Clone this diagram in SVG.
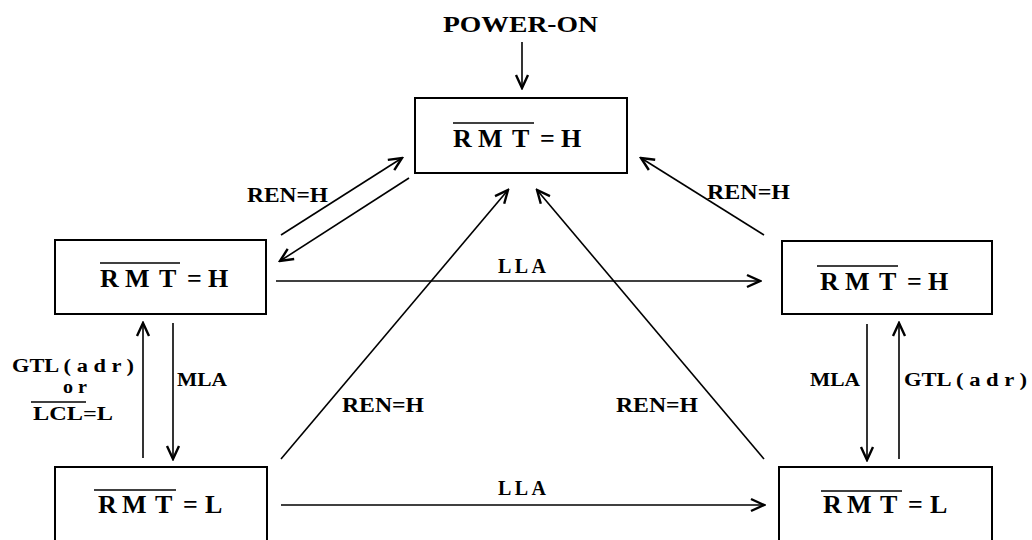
<svg xmlns="http://www.w3.org/2000/svg" width="1032" height="540" viewBox="0 0 1032 540">
  <style>
    .box { fill: #ffffff; stroke: #000000; stroke-width: 2; }
    .edge { fill: none; stroke: #000000; stroke-width: 1.6; marker-end: url(#arrow); }
    .bar { stroke: #000000; stroke-width: 1.6; }
    .state { font-family: "Liberation Serif", "Times New Roman", serif; font-weight: bold; font-size: 26px; fill: #000000; }
    .lbl { font-family: "Liberation Serif", "Times New Roman", serif; font-weight: bold; fill: #000000; }
    .big { font-size: 20px; }
    .small { font-size: 18px; }
  </style>
  <defs>
    <marker id="arrow" markerUnits="userSpaceOnUse" markerWidth="18" markerHeight="16" viewBox="-16 -8 18 16" refX="0" refY="0" orient="auto">
      <path d="M-13,-6 L0,0 L-13,6" fill="none" stroke="#000000" stroke-width="2.4" stroke-linejoin="miter"/>
    </marker>
  </defs>

  <rect width="1032" height="540" fill="#ffffff"/>

  <!-- entry label -->
  <text class="lbl" x="443" y="32" font-size="23" textLength="155" lengthAdjust="spacingAndGlyphs">POWER-ON</text>

  <!-- transitions -->
  <g id="connectors">
    <line class="edge" x1="522" y1="42" x2="522" y2="88"/>
    <line class="edge" x1="281" y1="235" x2="402" y2="158"/>
    <line class="edge" x1="409" y1="178" x2="280" y2="261"/>
    <line class="edge" x1="764" y1="235" x2="641" y2="158"/>
    <line class="edge" x1="276" y1="281" x2="760" y2="281"/>
    <line class="edge" x1="143" y1="458" x2="143" y2="323"/>
    <line class="edge" x1="173" y1="323" x2="173" y2="459"/>
    <line class="edge" x1="867" y1="324" x2="867" y2="460"/>
    <line class="edge" x1="899" y1="459" x2="899" y2="323"/>
    <line class="edge" x1="281" y1="459" x2="508" y2="190"/>
    <line class="edge" x1="764" y1="459" x2="537" y2="190"/>
    <line class="edge" x1="281" y1="505" x2="764" y2="505"/>

    <text class="lbl big" x="247" y="202" textLength="81" lengthAdjust="spacingAndGlyphs">REN=H</text>
    <text class="lbl big" x="707" y="199" textLength="83" lengthAdjust="spacingAndGlyphs">REN=H</text>
    <text class="lbl big" x="498" y="273" textLength="48" lengthAdjust="spacing">LLA</text>
    <text class="lbl big" x="342" y="412" textLength="82" lengthAdjust="spacingAndGlyphs">REN=H</text>
    <text class="lbl big" x="616" y="412" textLength="82" lengthAdjust="spacingAndGlyphs">REN=H</text>
    <text class="lbl big" x="498" y="495" textLength="48" lengthAdjust="spacing">LLA</text>

    <text class="lbl small" x="177" y="386" textLength="50" lengthAdjust="spacingAndGlyphs">MLA</text>
    <text class="lbl small" x="12" y="372" textLength="122" lengthAdjust="spacingAndGlyphs">GTL ( a d r )</text>
    <text class="lbl small" x="63" y="393" textLength="24" lengthAdjust="spacingAndGlyphs">o r</text>
    <line class="bar" x1="31" y1="402" x2="86" y2="402"/>
    <text class="lbl small" x="33" y="420" textLength="80" lengthAdjust="spacingAndGlyphs">LCL=L</text>
    <text class="lbl small" x="810" y="386" textLength="50" lengthAdjust="spacingAndGlyphs">MLA</text>
    <text class="lbl small" x="904" y="386" textLength="123" lengthAdjust="spacingAndGlyphs">GTL ( a d r )</text>
  </g>

  <!-- states: each glyph placed on its own x -->
  <g id="state-top">
    <rect class="box" x="415" y="98" width="212" height="75"/>
    <line class="bar" x1="453" y1="123" x2="534" y2="123"/>
    <text class="state" x="453 478 512 540 561" y="147">RMT=H</text>
  </g>
  <g id="state-left-h">
    <rect class="box" x="55" y="240" width="211" height="74"/>
    <line class="bar" x1="100" y1="263" x2="180" y2="263"/>
    <text class="state" x="100 125 159 187 208" y="287">RMT=H</text>
  </g>
  <g id="state-right-h">
    <rect class="box" x="782" y="241" width="210" height="73"/>
    <line class="bar" x1="817" y1="266" x2="898" y2="266"/>
    <text class="state" x="820 845 879 907 928" y="290">RMT=H</text>
  </g>
  <g id="state-left-l">
    <rect class="box" x="55" y="467" width="212" height="100"/>
    <line class="bar" x1="94" y1="490" x2="176" y2="490"/>
    <text class="state" x="98 122 155 183 205" y="513">RMT=L</text>
  </g>
  <g id="state-right-l">
    <rect class="box" x="779" y="467" width="213" height="100"/>
    <line class="bar" x1="821" y1="491" x2="902" y2="491"/>
    <text class="state" x="823 847 880 908 930" y="513">RMT=L</text>
  </g>
</svg>
